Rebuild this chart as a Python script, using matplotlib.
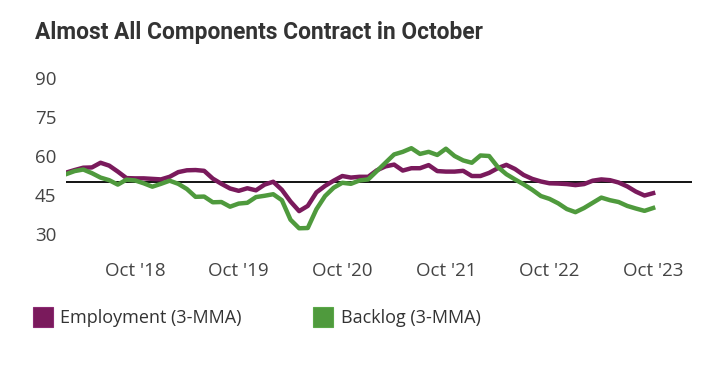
import numpy as np
import matplotlib.pyplot as plt
from matplotlib.patches import Rectangle

# dane: miesiace od lutego 2018 do pazdziernika 2023 (3-MMA)
employment = [53.6, 54.6, 55.5, 55.6, 57.4, 56.3, 54.0, 51.5, 51.4, 51.4, 51.2,
              51.0, 52.0, 53.8, 54.5, 54.6, 54.3, 51.3, 49.3, 47.5, 46.6, 47.6, 46.8,
              49.0, 50.1, 47.0, 42.5, 38.8, 40.8, 46.0, 48.5, 50.5, 52.3, 51.7, 52.0,
              52.0, 54.5, 56.0, 56.7, 54.4, 55.3, 55.3, 56.5, 54.2, 54.0, 54.0, 54.3,
              52.3, 52.3, 53.5, 55.3, 56.6, 55.0, 52.7, 51.2, 50.2, 49.5, 49.4, 49.2,
              48.8, 49.2, 50.5, 51.0, 50.7, 49.8, 48.3, 46.3, 44.8, 45.7]
backlog = [53.0, 54.2, 54.8, 53.4, 51.7, 50.7, 49.0, 50.9, 50.6, 49.5, 48.2,
           49.3, 50.5, 49.3, 47.3, 44.3, 44.4, 42.2, 42.3, 40.5, 41.7, 42.0, 44.2,
           44.7, 45.3, 43.0, 35.5, 32.2, 32.3, 39.5, 44.6, 47.8, 49.7, 49.3, 50.6,
           51.0, 54.2, 57.4, 60.6, 61.6, 63.0, 60.8, 61.6, 60.4, 62.8, 60.0, 58.3,
           57.4, 60.2, 60.0, 55.8, 53.0, 51.0, 49.1, 47.0, 44.6, 43.5, 41.8, 39.6,
           38.4, 40.0, 42.0, 44.0, 43.0, 42.3, 40.8, 39.8, 38.9, 40.0]
tick_pos = [8, 20, 32, 44, 56, 68]          # indeksy pazdziernikow
tick_labels = ["Oct '18", "Oct '19", "Oct '20", "Oct '21", "Oct '22", "Oct '23"]
y_ticks = [30, 45, 60, 75, 90]
baseline = 50
series_names = ['Employment (3-MMA)', 'Backlog (3-MMA)']

PURPLE = '#7a1a5c'
GREEN = '#4f9a3d'
TXT = '#444444'
W, H = 720, 369

plt.rcParams['font.family'] = ['Open Sans', 'DejaVu Sans']

fig = plt.figure(figsize=(7.2, 3.69), dpi=100)
ax = fig.add_axes([66 / W, 1 - 247 / H, 626 / W, 182 / H])

x = np.arange(len(employment))
ax.plot(x, employment, color=PURPLE, lw=3.2)
ax.plot(x, backlog, color=GREEN, lw=3.2)
ax.axhline(baseline, color='black', lw=1.3, zorder=1)

ax.set_xlim(0, 72.5)
ax.set_ylim(25, 95)
ax.set_yticks(y_ticks)
ax.set_xticks(tick_pos)
ax.set_xticklabels(tick_labels)
ax.tick_params(length=0, labelsize=13.5, colors=TXT)
ax.tick_params(axis='y', pad=7)
ax.tick_params(axis='x', pad=11)
for s in ax.spines.values():
    s.set_visible(False)

fig.text(35 / W, 1 - 33 / H, 'Almost All Components Contract in October',
         fontsize=16.4, fontweight='bold', color='#333333', va='center',
         family=['Roboto', 'DejaVu Sans'])

# legenda recznie
for (px, tx), col, name in zip([(33, 60), (313, 341)], [PURPLE, GREEN], series_names):
    fig.patches.append(Rectangle((px / W, 1 - 327 / H), 20 / W, 20 / H,
                                 transform=fig.transFigure, facecolor=col,
                                 edgecolor='#8c2a72' if col == PURPLE else '#5aa848', lw=0.8))
    fig.text(tx / W, 1 - 318 / H, name, fontsize=13, color='#333333', va='center')

fig.savefig('out.png', dpi=100, facecolor='white')
